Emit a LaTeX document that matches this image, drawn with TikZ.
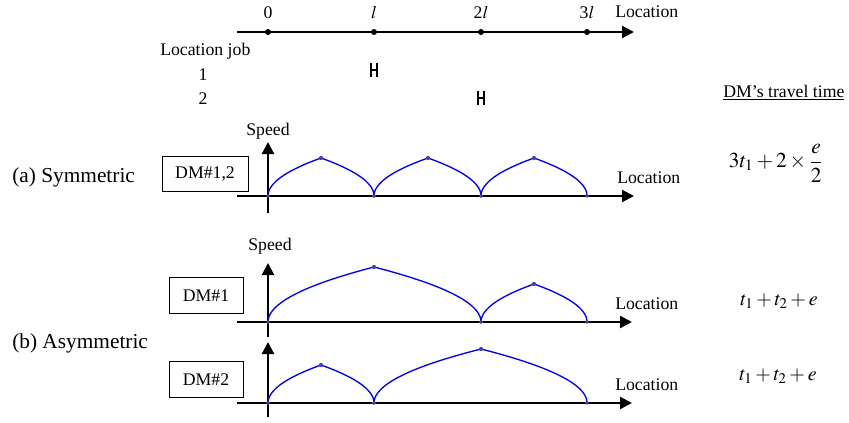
\documentclass[tikz,border=0pt]{standalone}
\usepackage{mathptmx}
\usepackage{fontspec}
\setmainfont{Liberation Serif}
\usetikzlibrary{arrows.meta, positioning}

% one speed arc: start x, peak x, end x, base y, peak y
\newcommand{\speedarc}[5]{%
  \draw[curve] plot[domain=0:1, samples=30, smooth] ({#1+(#2-#1)*\x*\x}, {#4-(#4-#5)*\x})
    -- plot[domain=1:0, samples=30, smooth] ({#3-(#3-#2)*\x*\x}, {#4-(#4-#5)*\x});
  \fill[peakdot] (#2,#5) circle (1.6pt);
  \fill[peakdot] (#1,#4) circle (1.4pt) (#3,#4) circle (1.4pt);
}

\begin{document}
\begin{tikzpicture}[
  x=0.75pt, y=-0.75pt,
  txt/.style={inner sep=0pt, font=\fontsize{13.3}{15}\selectfont},
  title/.style={inner sep=0pt, font=\fontsize{16}{18}\selectfont},
  formula/.style={inner sep=0pt, font=\fontsize{15}{17}\selectfont},
  dmbox/.style={draw, line width=0.75pt, inner sep=0pt, minimum height=26.5pt,
                font=\fontsize{13.3}{15}\selectfont},
  axis/.style={line width=1.6pt, -{Triangle[length=9pt, width=9pt]}},
  tick/.style={circle, fill=black, inner sep=0pt, minimum size=4.5pt},
  curve/.style={blue, line width=1pt},
  peakdot/.style={fill={rgb,255:red,70;green,70;blue,160}},
  job/.style={line width=0.8pt}
]
\useasboundingbox (0,0) rectangle (849,422);

% location axis with jobs
\coordinate (top start) at (237,32);
\coordinate (top end) at (634,32);
\draw[axis] (top start) -- (top end);
\node[tick] (t0) at (268,32) {};
\node[tick] (t1) at (374,32) {};
\node[tick] (t2) at (481,32) {};
\node[tick] (t3) at (587,32) {};
\node[txt, anchor=base] (l0) at (268,18) {0};
\node[txt, anchor=base] (l1) at (374,18) {$l$};
\node[txt, anchor=base] (l2) at (481,18) {2$l$};
\node[txt, anchor=base] (l3) at (587,18) {3$l$};
\node[txt, anchor=base west] (loctop) at (615,17) {Location};
\node[txt, anchor=base west] (locjob) at (160,55) {Location job};
\node[txt, anchor=base] (job1) at (203,80) {1};
\node[txt, anchor=base] (job2) at (203,104) {2};
\draw[job] (371,63) -- (371,77) (377,63) -- (377,77) (371,70) -- (377,70);
\draw[job] (478,91) -- (478,105) (484,91) -- (484,105) (478,98) -- (484,98);
\node[txt, anchor=base west] (travel) at (723,97) {\underline{DM’s travel time}};

% (a) symmetric
\node[title, anchor=base west] (sym) at (12,182) {(a) Symmetric};
\node[dmbox, minimum width=64.5pt] (dm12) at (205,174) {DM\#1,2};
\coordinate (a y0) at (268,213);
\coordinate (a y1) at (268,142);
\coordinate (a x0) at (237,196);
\coordinate (a x1) at (634,196);
\draw[axis] (a y0) -- (a y1);
\draw[axis] (a x0) -- (a x1);
\node[txt, anchor=base] (speed a) at (268,135) {Speed};
\node[txt, anchor=base west] (loc a) at (617,183) {Location};
\speedarc{268}{321}{374}{196}{158}
\speedarc{374}{428}{481}{196}{158}
\speedarc{481}{534}{587}{196}{158}
\node[formula, font=\fontsize{16}{18}\selectfont] (time a) at (776,163)
  {$\displaystyle 3t_1+2\times\frac{e}{2}$};

% (b) asymmetric
\node[title, anchor=base west] (asym) at (12,348) {(b) Asymmetric};
\node[txt, anchor=base] (speed b) at (270,250) {Speed};
\node[dmbox, minimum width=55.5pt] (dm1) at (206,295.5) {DM\#1};
\coordinate (b y0) at (268,337);
\coordinate (b y1) at (268,263);
\coordinate (b x0) at (237,322);
\coordinate (b x1) at (632,322);
\draw[axis] (b y0) -- (b y1);
\draw[axis] (b x0) -- (b x1);
\node[txt, anchor=base west] (loc b) at (615,309) {Location};
\speedarc{268}{374}{481}{322}{267}
\speedarc{481}{534}{587}{322}{284}
\node[formula, anchor=base] (time b) at (779,305) {$t_1+t_2+e$};

\node[dmbox, minimum width=55.5pt] (dm2) at (206,379.5) {DM\#2};
\coordinate (c y0) at (268,417);
\coordinate (c y1) at (268,342);
\coordinate (c x0) at (237,403);
\coordinate (c x1) at (632,403);
\draw[axis] (c y0) -- (c y1);
\draw[axis] (c x0) -- (c x1);
\node[txt, anchor=base west] (loc c) at (615,390) {Location};
\speedarc{268}{321}{374}{403}{365}
\speedarc{374}{481}{587}{403}{349}
\node[formula, anchor=base] (time c) at (778,380) {$t_1+t_2+e$};
\end{tikzpicture}
\end{document}
